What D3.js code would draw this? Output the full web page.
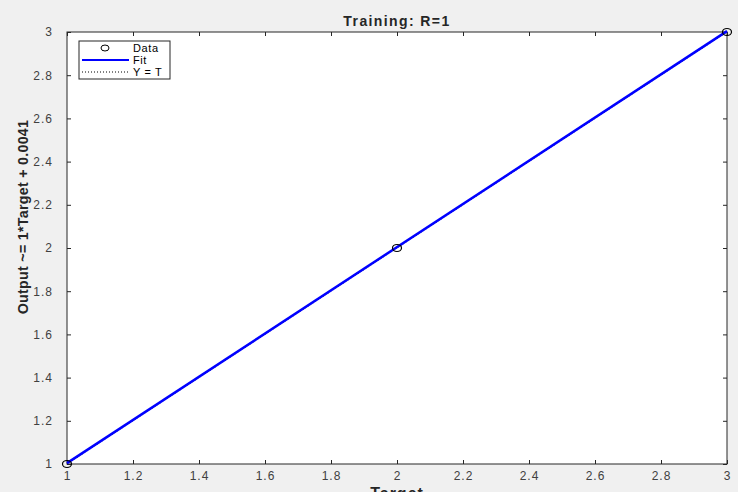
<!DOCTYPE html>
<html>
<head>
<meta charset="utf-8">
<title>Training: R=1</title>
<script src="https://cdn.jsdelivr.net/npm/d3@7"></script>
<style>
body { margin: 0; background: #f0f0f0; }
svg { display: block; font-family: "Liberation Sans", Arial, sans-serif; }
.tick text { fill: #404040; font-size: 12px; letter-spacing: 1px; }
.tick line { stroke: #262626; }
.domain { stroke: none; }
</style>
</head>
<body>
<div id="chart"></div>
<script>
// data
var targets = [1, 2, 3];
var outputs = [1, 2, 3];
var fitSlope = 1, fitIntercept = 0.0041;
var xTicks = [1, 1.2, 1.4, 1.6, 1.8, 2, 2.2, 2.4, 2.6, 2.8, 3];
var yTicks = [1, 1.2, 1.4, 1.6, 1.8, 2, 2.2, 2.4, 2.6, 2.8, 3];
var legendNames = ["Data", "Fit", "Y = T"];

var W = 738, H = 492;
// plot box (window.top is reserved, so use other names)
var pLeft = 67, pRight = 727, pTop = 32, pBottom = 464;

var svg = d3.select("#chart").append("svg").attr("width", W).attr("height", H);

var x = d3.scaleLinear().domain([1, 3]).range([pLeft, pRight]);
var y = d3.scaleLinear().domain([1, 3]).range([pBottom, pTop]);

svg.append("rect").attr("x", pLeft).attr("y", pTop)
	.attr("width", pRight - pLeft).attr("height", pBottom - pTop)
	.attr("fill", "#fff");

// axes, ticks pointing inward like matlab
var fmt = function(d) { return d3.format("~g")(d); };
svg.append("g").attr("transform", "translate(0," + pBottom + ")")
	.call(d3.axisBottom(x).tickValues(xTicks).tickFormat(fmt).tickSizeInner(-4).tickSizeOuter(0).tickPadding(7));
svg.append("g").attr("transform", "translate(0," + pTop + ")")
	.call(d3.axisTop(x).tickValues(xTicks).tickFormat("").tickSizeInner(-4).tickSizeOuter(0));
svg.append("g").attr("transform", "translate(" + pLeft + ",0)")
	.call(d3.axisLeft(y).tickValues(yTicks).tickFormat(fmt).tickSizeInner(-4).tickSizeOuter(0).tickPadding(14));
svg.append("g").attr("transform", "translate(" + pRight + ",0)")
	.call(d3.axisRight(y).tickValues(yTicks).tickFormat("").tickSizeInner(-4).tickSizeOuter(0));

svg.append("rect").attr("x", pLeft).attr("y", pTop)
	.attr("width", pRight - pLeft).attr("height", pBottom - pTop)
	.attr("fill", "none").attr("stroke", "#262626").attr("stroke-width", 1);

// Y = T line
var lo = d3.min(targets), hi = d3.max(targets);
svg.append("line")
	.attr("x1", x(lo)).attr("y1", y(lo)).attr("x2", x(hi)).attr("y2", y(hi))
	.attr("stroke", "#000").attr("stroke-width", 1).attr("stroke-dasharray", "1,2");

// fit line
var line = d3.line().x(function(d) { return x(d); }).y(function(d) { return y(fitSlope * d + fitIntercept); });
svg.append("path").datum([lo, hi]).attr("d", line)
	.attr("fill", "none").attr("stroke", "#0000ff").attr("stroke-width", 2.5);

// data markers
svg.selectAll("ellipse.pt").data(targets).enter().append("ellipse")
	.attr("class", "pt")
	.attr("cx", function(d) { return x(d); })
	.attr("cy", function(d, i) { return y(outputs[i]); })
	.attr("rx", 4.5).attr("ry", 3.5)
	.attr("fill", "none").attr("stroke", "#000").attr("stroke-width", 1.2);

// title and labels
svg.append("text").attr("x", (pLeft + pRight) / 2).attr("y", 26)
	.attr("text-anchor", "middle").attr("font-weight", "bold").attr("font-size", "14px")
	.attr("letter-spacing", "1.4px")
	.attr("fill", "#262626").text("Training: R=1");
svg.append("text").attr("x", (pLeft + pRight) / 2).attr("y", 499)
	.attr("text-anchor", "middle").attr("font-weight", "bold").attr("font-size", "16px")
	.attr("letter-spacing", "1px")
	.attr("fill", "#262626").text("Target");
// slightly condensed y label
svg.append("text").attr("transform", "translate(28,217) rotate(-90) scale(0.95,1)")
	.attr("text-anchor", "middle").attr("font-weight", "bold").attr("font-size", "15px")
	.attr("letter-spacing", "0.3px")
	.attr("fill", "#262626").text("Output ~= " + fitSlope + "*Target + " + fitIntercept);

// legend
var lg = svg.append("g").attr("transform", "translate(79,41)");
lg.append("rect").attr("width", 91).attr("height", 38)
	.attr("fill", "#fff").attr("stroke", "#262626").attr("stroke-width", 1);
var rows = lg.selectAll("g.row").data(legendNames).enter().append("g")
	.attr("transform", function(d, i) { return "translate(0," + (7 + i * 12) + ")"; });
rows.append("text").attr("x", 54).attr("y", 4).attr("font-size", "11px").attr("letter-spacing", "0.6px")
	.attr("fill", "#000")
	.text(function(d) { return d; });
rows.filter(function(d, i) { return i == 0; }).append("ellipse")
	.attr("cx", 26).attr("cy", 0).attr("rx", 4).attr("ry", 3)
	.attr("fill", "none").attr("stroke", "#000").attr("stroke-width", 1);
rows.filter(function(d, i) { return i == 1; }).append("line")
	.attr("x1", 3).attr("x2", 50).attr("stroke", "#0000ff").attr("stroke-width", 2);
rows.filter(function(d, i) { return i == 2; }).append("line")
	.attr("x1", 3).attr("x2", 50).attr("stroke", "#000").attr("stroke-width", 1).attr("stroke-dasharray", "1,2");
</script>
</body>
</html>
